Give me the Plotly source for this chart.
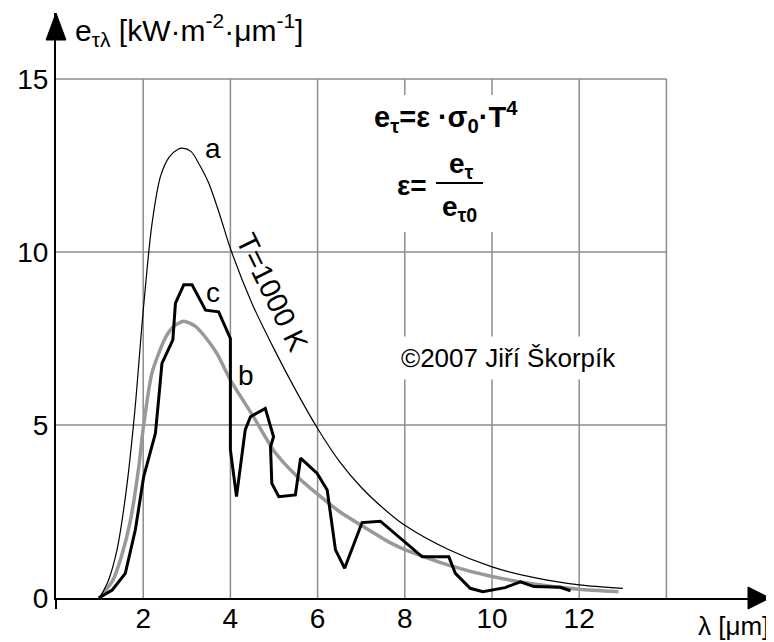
import plotly.graph_objects as go

# ---------------- data ----------------
lam_a = [1.0, 1.2, 1.4, 1.6, 1.8, 2.0, 2.2, 2.4, 2.6, 2.8, 2.9, 3.1, 3.3, 3.5, 3.75,
         4.0, 4.5, 5.0, 5.5, 6.0, 6.5, 7.0, 7.5, 8.0, 9.0, 10.0, 11.0, 12.0, 13.0]
e_a = [0.0, 0.5, 1.4, 3.0, 5.3, 8.3, 10.8, 12.2, 12.75, 12.97, 13.0, 12.9, 12.5, 12.0, 11.1,
       10.1, 8.5, 7.2, 6.0, 4.9, 3.95, 3.2, 2.6, 2.1, 1.4, 0.9, 0.58, 0.38, 0.28]

lam_b = [1.0, 1.3, 1.5, 1.7, 1.9, 2.0, 2.2, 2.5, 2.7, 2.93, 3.2, 3.45, 3.7, 4.0, 4.5,
         5.0, 5.5, 6.0, 6.5, 7.0, 7.66, 8.0, 9.0, 10.0, 11.0, 12.0, 12.9]
e_b = [0.0, 0.5, 1.2, 2.2, 3.8, 4.9, 6.5, 7.5, 7.85, 8.0, 7.85, 7.5, 7.05, 6.3, 5.3,
       4.25, 3.55, 3.0, 2.5, 2.1, 1.6, 1.4, 0.95, 0.62, 0.4, 0.25, 0.18]

lam_c = [0.98, 1.29, 1.59, 1.82, 2.01, 2.28, 2.36, 2.43, 2.68, 2.74, 2.93, 3.12, 3.43, 3.73,
         4.0, 4.0, 4.14, 4.34, 4.46, 4.8, 4.99, 4.92, 4.95, 5.11, 5.49, 5.61, 5.99, 6.22,
         6.41, 6.62, 7.02, 7.44, 8.4, 9.01, 9.16, 9.5, 9.79, 10.3, 10.65, 10.96, 11.57, 11.8]
e_c = [0.0, 0.23, 0.71, 1.97, 3.5, 4.76, 5.82, 6.78, 7.46, 8.52, 9.05, 9.05, 8.32, 8.27,
       7.5, 4.28, 2.93, 4.86, 5.24, 5.48, 4.66, 4.37, 3.31, 2.93, 2.98, 4.04, 3.6, 3.12,
       1.39, 0.86, 2.18, 2.22, 1.19, 1.19, 0.71, 0.28, 0.18, 0.3, 0.47, 0.33, 0.31, 0.21]

x_ticks = [2, 4, 6, 8, 10, 12]
y_ticks = [0, 5, 10, 15]
grid_x = [2, 4, 6, 8, 10, 12, 14]
grid_y = [5, 10, 15]

# ---------------- layout geometry ----------------
OFF = 8                      # page body margin in the browser
W, H = 774 - OFF, 642 - OFF  # figure size
X0_REF, Y0_REF = 56, 598     # reference pixel of the origin
XR_REF, YT_REF = 770, 13     # reference pixel of arrow tips
L = X0_REF - OFF
T = YT_REF - OFF
R = W - (XR_REF - OFF)
B = H - (Y0_REF - OFF)
PXX = 43.6   # px per x unit
PXY = 34.6   # px per y unit
x_max = (XR_REF - X0_REF) / PXX
y_max = (Y0_REF - YT_REF) / PXY
FONT = "Liberation Sans, Arial, sans-serif"


def dpos(xp, yp):
    """reference pixel position -> data coordinates"""
    return (xp - X0_REF) / PXX, (Y0_REF - yp) / PXY


def ppos(xp, yp):
    """reference pixel position -> paper coordinates"""
    return (xp - X0_REF) / (XR_REF - X0_REF), (Y0_REF - yp) / (Y0_REF - YT_REF)


fig = go.Figure()
fig.add_trace(go.Scatter(x=lam_b, y=e_b, mode="lines",
                         line=dict(color="#999999", width=3.5, shape="spline", smoothing=0.6),
                         hoverinfo="skip"))
fig.add_trace(go.Scatter(x=lam_c, y=e_c, mode="lines", line=dict(color="#000000", width=3),
                         hoverinfo="skip"))
fig.add_trace(go.Scatter(x=lam_a, y=e_a, mode="lines",
                         line=dict(color="#000000", width=1.2, shape="spline", smoothing=0.8),
                         hoverinfo="skip"))

shapes = []
for gx in grid_x:
    shapes.append(dict(type="line", xref="x", yref="y", x0=gx, x1=gx, y0=0, y1=max(grid_y),
                       line=dict(color="#8c8c8c", width=1.5), layer="below"))
for gy in grid_y:
    shapes.append(dict(type="line", xref="x", yref="y", x0=0, x1=max(grid_x), y0=gy, y1=gy,
                       line=dict(color="#8c8c8c", width=1.5), layer="below"))
# white box behind formulas
bx0, by0 = dpos(358, 232)
bx1, by1 = dpos(534, 95)
shapes.append(dict(type="rect", xref="x", yref="y", x0=bx0, x1=bx1, y0=by0, y1=by1,
                   fillcolor="white", line=dict(width=0), layer="below"))
# fraction bar
fx0, fy = dpos(436, 183)
fx1, _ = dpos(483, 183)
shapes.append(dict(type="line", xref="x", yref="y", x0=fx0, x1=fx1, y0=fy, y1=fy,
                   line=dict(color="black", width=2)))
# axis arrowheads and small extension of the vertical axis below zero
shapes.append(dict(type="path", xref="paper", yref="paper", xsizemode="pixel", ysizemode="pixel",
                   xanchor=1, yanchor=0, path="M -22,-11 L 0,0 L -22,11 Z",
                   fillcolor="black", line=dict(color="black", width=1)))
shapes.append(dict(type="path", xref="paper", yref="paper", xsizemode="pixel", ysizemode="pixel",
                   xanchor=0, yanchor=1, path="M -10,-27 L 0,0 L 10,-27 Z",
                   fillcolor="black", line=dict(color="black", width=1)))
shapes.append(dict(type="line", xref="paper", yref="paper", ysizemode="pixel", yanchor=0,
                   x0=0, x1=0, y0=0, y1=-11, line=dict(color="black", width=2)))

ann = []


def text(xp, yp, s, size, **kw):
    x, y = dpos(xp, yp)
    d = dict(x=x, y=y, xref="x", yref="y", text=s, showarrow=False,
             font=dict(family=FONT, size=size, color="black"))
    d.update(kw)
    ann.append(d)


text(213, 148, "a", 28)
text(246, 375, "b", 28)
text(213, 292, "c", 28)
text(272, 292, "T=1000 K", 29, textangle=64)
text(508, 358, "©2007 Jiří Škorpík", 26, bgcolor="white", borderpad=6)
text(446, 117, "<b>e<sub>τ</sub>=ε ·σ<sub>0</sub>·T<sup>4</sup></b>", 29)
text(412, 185, "<b>ε=</b>", 28)
text(461, 165, "<b>e<sub>τ</sub></b>", 28)
text(459, 208, "<b>e<sub>τ0</sub></b>", 28)

px_, py_ = ppos(73, 30)
ann.append(dict(x=px_, y=py_, xref="paper", yref="paper", xanchor="left", yanchor="middle",
                text="e<sub>τλ</sub> [kW·m<sup>-2</sup>·μm<sup>-1</sup>]", showarrow=False,
                font=dict(family=FONT, size=30, color="black")))
px_, py_ = ppos(771, 626)
ann.append(dict(x=px_, y=py_, xref="paper", yref="paper", xanchor="right", yanchor="middle",
                text="λ [μm]", showarrow=False,
                font=dict(family=FONT, size=26, color="black")))

fig.update_layout(
    width=W, height=H,
    margin=dict(l=L, r=R, t=T, b=B, pad=0),
    paper_bgcolor="white", plot_bgcolor="white",
    showlegend=False,
    shapes=shapes, annotations=ann,
    xaxis=dict(range=[0, x_max], showgrid=False, zeroline=False, showline=True,
               linecolor="black", linewidth=2, tickmode="array", tickvals=x_ticks,
               ticktext=[str(v) for v in x_ticks], ticks="", ticklabelstandoff=-6,
               tickfont=dict(family=FONT, size=28, color="black")),
    yaxis=dict(range=[0, y_max], showgrid=False, zeroline=False, showline=True,
               linecolor="black", linewidth=2, tickmode="array", tickvals=y_ticks,
               ticktext=[str(v) for v in y_ticks], ticks="",
               tickfont=dict(family=FONT, size=28, color="black")),
)

fig.write_html("out.html")
